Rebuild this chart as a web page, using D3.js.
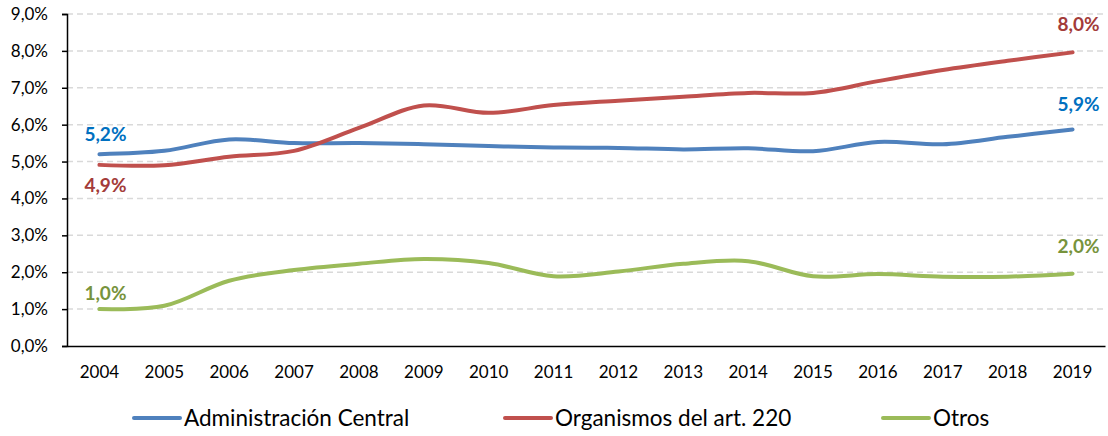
<!DOCTYPE html>
<html>
<head>
<meta charset="utf-8">
<script src="https://cdn.jsdelivr.net/npm/d3@7"></script>
<style>
  body { margin: 0; background: #fff; }
  text { font-family: Lato, "Open Sans", sans-serif; }
</style>
</head>
<body>
<svg id="chart" width="1108" height="436"></svg>
<script>
const years = ['2004', '2005', '2006', '2007', '2008', '2009', '2010', '2011',
               '2012', '2013', '2014', '2015', '2016', '2017', '2018', '2019'];
const adminCentral = [5.2, 5.29, 5.6, 5.5, 5.5, 5.47, 5.42, 5.38, 5.37, 5.33, 5.36, 5.28, 5.53, 5.47, 5.67, 5.87];
const organismos = [4.91, 4.9, 5.13, 5.29, 5.91, 6.52, 6.32, 6.53, 6.65, 6.76, 6.86, 6.86, 7.18, 7.48, 7.73, 7.96];
const otros = [1.0, 1.09, 1.77, 2.06, 2.23, 2.36, 2.25, 1.89, 2.02, 2.23, 2.3, 1.89, 1.95, 1.88, 1.88, 1.96];
const yTicks = [0, 1, 2, 3, 4, 5, 6, 7, 8, 9];

const series = [
    { name: 'Administración Central', values: adminCentral, color: '#4F81BD', label: '#0070C0', first: '5,2%', last: '5,9%', dyFirst: -20, dyLast: -25 },
    { name: 'Organismos del art. 220', values: organismos, color: '#C0504D', label: '#A33B39', first: '4,9%', last: '8,0%', dyFirst: 20, dyLast: -28 },
    { name: 'Otros', values: otros, color: '#9BBB59', label: '#77933C', first: '1,0%', last: '2,0%', dyFirst: -16, dyLast: -27 }
];

const margin = { left: 67, right: 3, top: 14, bottom: 90 };
const width = 1108;
const height = 436;

const svg = d3.select('#chart');

const x = d3.scaleBand()
    .domain(years)
    .range([margin.left, width - margin.right]);

const y = d3.scaleLinear()
    .domain([0, 9])
    .range([height - margin.bottom, margin.top]);

const fmt = v => v.toFixed(1).replace('.', ',') + '%';

// gridlines
svg.append('g')
    .selectAll('line')
    .data(yTicks.filter(d => d > 0))
    .enter()
    .append('line')
    .attr('x1', margin.left)
    .attr('x2', width - margin.right)
    .attr('y1', d => y(d))
    .attr('y2', d => y(d))
    .attr('stroke', '#D9D9D9')
    .attr('stroke-width', 1.5)
    .attr('stroke-dasharray', '6,4');

// y axis
const yAxis = d3.axisLeft(y)
    .tickValues(yTicks)
    .tickSize(5)
    .tickPadding(14)
    .tickFormat(fmt);

const gy = svg.append('g')
    .attr('transform', 'translate(' + margin.left + ',0)')
    .call(yAxis);
gy.select('.domain').attr('stroke', '#000').attr('stroke-width', 1.5);
gy.selectAll('.tick line').attr('stroke', '#000').attr('stroke-width', 1.5);
gy.selectAll('.tick text').attr('font-size', 17).attr('fill', '#000')
    .style('font-family', 'Lato, sans-serif');

// x axis
const xAxis = d3.axisBottom(x)
    .tickSize(0)
    .tickPadding(20);

const gx = svg.append('g')
    .attr('transform', 'translate(0,' + (height - margin.bottom) + ')')
    .call(xAxis);
gx.select('.domain').attr('stroke', '#000').attr('stroke-width', 1.5);
gx.selectAll('.tick text').attr('font-size', 17).attr('fill', '#000')
    .style('font-family', 'Lato, sans-serif');

// lines
const line = d3.line()
    .x((d, i) => x(years[i]) + x.bandwidth() / 2)
    .y(d => y(d))
    .curve(d3.curveCatmullRom.alpha(0.5));

series.forEach(s => {
    svg.append('path')
        .datum(s.values)
        .attr('d', line)
        .attr('fill', 'none')
        .attr('stroke', s.color)
        .attr('stroke-width', 4)
        .attr('stroke-linecap', 'round');

    const xFirst = x(years[0]) + x.bandwidth() / 2;
    const xLast = x(years[years.length - 1]) + x.bandwidth() / 2;

    svg.append('text')
        .attr('x', xFirst + 6)
        .attr('y', y(s.values[0]) + s.dyFirst)
        .attr('dy', '0.35em')
        .attr('text-anchor', 'middle')
        .attr('font-size', 19)
        .attr('font-weight', 'bold')
        .attr('fill', s.label)
        .text(s.first);

    svg.append('text')
        .attr('x', xLast + 6)
        .attr('y', y(s.values[s.values.length - 1]) + s.dyLast)
        .attr('dy', '0.35em')
        .attr('text-anchor', 'middle')
        .attr('font-size', 19)
        .attr('font-weight', 'bold')
        .attr('fill', s.label)
        .text(s.last);
});

// legend
const legendX = [134, 505, 883];
const legend = svg.append('g')
    .selectAll('g')
    .data(series)
    .enter()
    .append('g')
    .attr('transform', (d, i) => 'translate(' + legendX[i] + ',418)');

legend.append('line')
    .attr('x1', 0)
    .attr('x2', 46)
    .attr('stroke', d => d.color)
    .attr('stroke-width', 4)
    .attr('stroke-linecap', 'round');

legend.append('text')
    .attr('x', 50)
    .attr('dy', '0.35em')
    .attr('font-size', 22.5)
    .attr('fill', '#000')
    .text(d => d.name);
</script>
</body>
</html>
